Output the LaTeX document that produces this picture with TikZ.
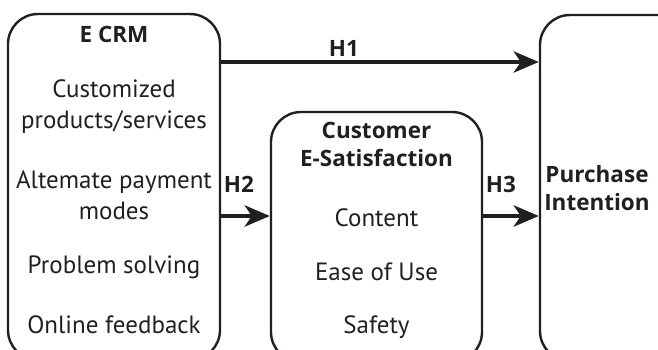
\documentclass[tikz,border=0pt]{standalone}
\usepackage{fontspec}
\setmainfont{PT Sans}
\newfontfamily\headfont{Open Sans}
\usetikzlibrary{arrows.meta}
\definecolor{ink}{HTML}{231F20}
\tikzset{
  cbox/.style={draw=ink, line width=2.4pt, rounded corners=30pt, rectangle, inner sep=0pt},
  lbl/.style={text=ink, font=\fontsize{25}{31}\selectfont, inner sep=0pt, align=center},
  hd/.style={text=ink, font=\headfont\fontsize{22.5}{28}\selectfont\bfseries, inner sep=0pt, align=center},
  harrow/.style={draw=ink, line width=4.6pt, -{Stealth[length=25pt, width=21pt, inset=7pt]}},
}
\begin{document}
\begin{tikzpicture}[x=1pt,y=-1pt]
\useasboundingbox (0,0) rectangle (658,350);
\clip (0,0) rectangle (658,350);
\node[cbox, minimum width=212pt, minimum height=346pt] (ecrm) at (114,187) {};
\node[cbox, minimum width=211pt, minimum height=250pt] (esat) at (376.5,237) {};
\node[cbox, minimum width=170pt, minimum height=346pt] (pi) at (625,188) {};

\node[hd] (t1) at (114,34) {E CRM};
\node[lbl] (t2) at (114,107) {Customized\\products/services};
\node[lbl] (t3) at (114,195) {Altemate payment\\modes};
\node[lbl] (t4) at (114,267) {Problem solving};
\node[lbl] (t5) at (114,325) {Online feedback};

\node[hd] (s1) at (376.5,144) {Customer\\E-Satisfaction};
\node[lbl] (s2) at (376.5,218) {Content};
\node[lbl] (s3) at (376.5,272) {Ease of Use};
\node[lbl] (s4) at (376.5,327) {Safety};

\node[hd] (p1) at (597,188) {Purchase\\Intention};

\draw[harrow] (ecrm.east |- 0,62) -- (pi.west |- 0,62);
\draw[harrow] (ecrm.east |- 0,216) -- (esat.west |- 0,216);
\draw[harrow] (esat.east |- 0,216) -- (pi.west |- 0,216);

\node[hd] (h1) at (344,48) {H1};
\node[hd] (h2) at (239,184) {H2};
\node[hd] (h3) at (501,184) {H3};
\end{tikzpicture}
\end{document}
